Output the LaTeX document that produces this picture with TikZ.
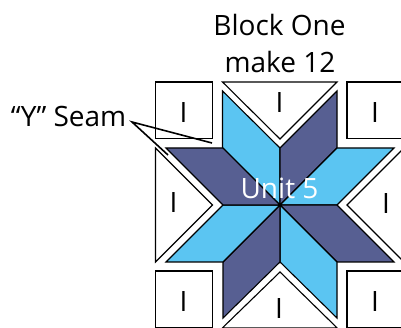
\documentclass[tikz,border=0pt]{standalone}
\usepackage{fontspec}
\setmainfont{Open Sans}
\definecolor{starblue}{HTML}{5BC5F2}
\definecolor{stardark}{HTML}{575F92}
\tikzset{
  patchblue/.style={draw=black,line width=1.1pt,fill=starblue,line join=miter},
  patchdark/.style={draw=black,line width=1.1pt,fill=stardark,line join=miter},
  patchwhite/.style={draw=black,line width=1.1pt,fill=white,line join=miter},
  seamline/.style={draw=black,line width=1.6pt},
  lab/.style={font=\fontsize{28}{28}\selectfont,text=black,inner sep=0pt,anchor=base},
  pieceI/.style={font=\fontsize{28}{28}\selectfont,text=black,inner sep=0pt,anchor=base},
}
\begin{document}
\begin{tikzpicture}[x=1pt,y=-1pt]
\useasboundingbox (0,0) rectangle (401,328);
\clip (0,0) rectangle (401,328);
\coordinate (c) at (280,205);
% corner squares
\draw[patchwhite] (155.5,82) rectangle (212.5,138.5);
\draw[patchwhite] (347,82) rectangle (410,138.5);
\draw[patchwhite] (155.5,271) rectangle (212.5,327.8);
\draw[patchwhite] (347,271) rectangle (410,327.8);
% side triangles
\draw[patchwhite] (222.5,82) -- (337,82) -- (280,139) -- cycle;
\draw[patchwhite] (155.5,148) -- (212.5,205) -- (155.5,262) -- cycle;
\draw[patchwhite] (404,148) -- (347,205) -- (404,262) -- cycle;
\draw[patchwhite] (222.5,327.8) -- (337,327.8) -- (280,272) -- cycle;
% star
\draw[patchblue] (c) -- (280,148) -- (222.5,91) -- (222.5,148) -- cycle;
\draw[patchdark] (c) -- (280,148) -- (337,91) -- (337,148) -- cycle;
\draw[patchblue] (c) -- (337,148) -- (394,148) -- (337,205) -- cycle;
\draw[patchdark] (c) -- (337,205) -- (394,262) -- (337,262) -- cycle;
\draw[patchblue] (c) -- (337,262) -- (337,318) -- (280,262) -- cycle;
\draw[patchdark] (c) -- (280,262) -- (223,318) -- (223,262) -- cycle;
\draw[patchblue] (c) -- (223,262) -- (166,262) -- (223,205) -- cycle;
\draw[patchdark] (c) -- (223,205) -- (166,148) -- (223,148) -- cycle;
% labels
\node[pieceI] (i1) at (183.5,123) {I};
\node[pieceI] (i2) at (279.5,113) {I};
\node[pieceI] (i3) at (375,123) {I};
\node[pieceI] (i4) at (173.5,213) {I};
\node[pieceI] (i5) at (386,214) {I};
\node[pieceI] (i6) at (183.5,311) {I};
\node[pieceI] (i7) at (279,318.5) {I};
\node[pieceI] (i8) at (375,311) {I};
\node[lab] (t1) at (279.5,36) {Block One};
\node[lab] (t2) at (280,73) {make 12};
\node[lab,anchor=base east] (y) at (126.5,127) {“Y” Seam};
\node[lab,text=white] (u) at (279.5,199) {Unit 5};
% seam pointers
\coordinate (s) at (132,122);
\coordinate (e1) at (212,143);
\coordinate (e2) at (168,155);
\draw[seamline] (e1) -- (s) -- (e2);
\end{tikzpicture}
\end{document}
